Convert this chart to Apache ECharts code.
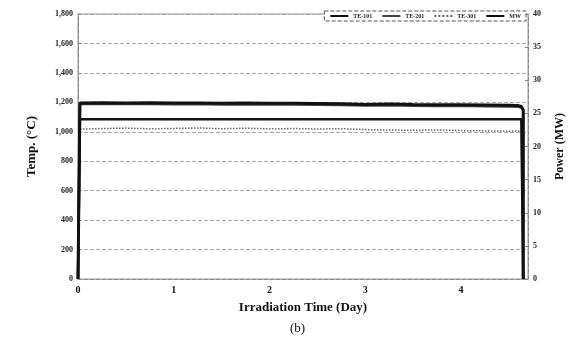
<!DOCTYPE html>
<html><head><meta charset="utf-8">
<script src="https://cdn.jsdelivr.net/npm/echarts@6/dist/echarts.min.js"></script>
<style>html,body{margin:0;padding:0;background:#fff}#c{width:574px;height:349px}</style>
</head><body><div id="c"></div>
<script>
const days  = [0, 0.02, 0.02, 0.25, 0.5, 0.75, 1, 1.25, 1.5, 1.75, 2, 2.25, 2.5, 2.75, 3, 3.25, 3.5, 3.75, 4, 4.25, 4.5, 4.6, 4.63, 4.65, 4.65];
const te101 = [0, 0, 1195, 1198, 1196, 1197, 1195, 1196, 1194, 1195, 1193, 1194, 1192, 1190, 1186, 1188, 1185, 1183, 1184, 1182, 1180, 1178, 1172, 1150, 0];
const te201 = [0, 0, 1188, 1190, 1189, 1188, 1187, 1188, 1186, 1187, 1185, 1186, 1184, 1182, 1178, 1180, 1177, 1175, 1176, 1174, 1172, 1170, 1165, 1145, 0];
const te301 = [0, 0, 1018, 1022, 1025, 1020, 1023, 1026, 1021, 1024, 1020, 1022, 1019, 1021, 1015, 1012, 1010, 1013, 1008, 1006, 1004, 1005, 1003, 1000, 0];
const mw    = [0, 0, 24.1, 24.1, 24.1, 24.1, 24.1, 24.1, 24.1, 24.1, 24.1, 24.1, 24.1, 24.1, 24.1, 24.1, 24.1, 24.1, 24.1, 24.1, 24.1, 24.1, 24.1, 24.1, 0];
const leftTicks = ['0','200','400','600','800','1,000','1,200','1,400','1,600','1,800'];

const pair = (ys) => days.map((d, i) => [d, ys[i]]);
const F = '"Liberation Serif","DejaVu Serif",serif';
const chart = echarts.init(document.getElementById('c'));
chart.setOption({
  animation: false,
  backgroundColor: '#fff',
  grid: {left: 78, right: 46, top: 14, bottom: 70, show: true, borderColor: '#999', borderWidth: 1},
  legend: {
    right: 48, top: 11, itemWidth: 18, itemHeight: 2, itemGap: 9,
    borderColor: '#555', borderWidth: 1, borderType: 'dashed', padding: [2, 5],
    backgroundColor: '#fff',
    textStyle: {fontFamily: F, fontSize: 6, fontWeight: 'bold', color: '#222'},
    data: ['TE-101', 'TE-201', 'TE-301', 'MW']
  },
  xAxis: {
    type: 'value', min: 0, max: 4.7, interval: 1,
    name: 'Irradiation Time (Day)', nameLocation: 'middle', nameGap: 22,
    nameTextStyle: {fontFamily: F, fontSize: 13, fontWeight: 'bold', color: '#111'},
    axisLine: {lineStyle: {color: '#888', type: 'dashed'}},
    axisTick: {show: false},
    splitLine: {show: false},
    axisLabel: {fontFamily: F, fontSize: 10, fontWeight: 'bold', color: '#111', margin: 6, showMaxLabel: false}
  },
  yAxis: [{
    type: 'value', min: 0, max: 1800, interval: 200,
    name: 'Temp. (°C)', nameLocation: 'middle', nameGap: 40,
    nameTextStyle: {fontFamily: F, fontSize: 13, fontWeight: 'bold', color: '#111'},
    axisLine: {show: true, lineStyle: {color: '#888', type: 'dashed'}},
    axisTick: {show: true, inside: true, length: 3, lineStyle: {color: '#888'}},
    splitLine: {show: true, lineStyle: {color: '#aaa', type: 'dashed', width: 1}},
    axisLabel: {fontFamily: F, fontSize: 8, fontWeight: 'bold', color: '#222', margin: 5,
      formatter: (v) => leftTicks[Math.round(v / 200)]}
  }, {
    type: 'value', min: 0, max: 40, interval: 5, position: 'right',
    name: 'Power (MW)', nameLocation: 'middle', nameGap: 26, nameRotate: 90,
    nameTextStyle: {fontFamily: F, fontSize: 12, fontWeight: 'bold', color: '#111'},
    axisLine: {show: true, lineStyle: {color: '#888', type: 'dashed'}},
    axisTick: {show: true, inside: true, length: 3, lineStyle: {color: '#888'}},
    splitLine: {show: false},
    axisLabel: {fontFamily: F, fontSize: 8, fontWeight: 'bold', color: '#222', margin: 5}
  }],
  graphic: [{
    type: 'text', left: 290, top: 322,
    style: {text: '(b)', font: '13px "Liberation Serif", serif', fill: '#111'}
  }],
  series: [
    {name: 'TE-101', type: 'line', yAxisIndex: 0, data: pair(te101), symbol: 'none',
     lineStyle: {color: '#111', width: 3}, itemStyle: {color: '#111'}, z: 4},
    {name: 'TE-201', type: 'line', yAxisIndex: 0, data: pair(te201), symbol: 'none',
     lineStyle: {color: '#444', width: 2.5}, itemStyle: {color: '#444'}, z: 3},
    {name: 'TE-301', type: 'line', yAxisIndex: 0, data: pair(te301), symbol: 'none',
     lineStyle: {color: '#666', width: 1.5, type: 'dotted'}, itemStyle: {color: '#666'}, z: 2},
    {name: 'MW', type: 'line', yAxisIndex: 1, data: pair(mw), symbol: 'none',
     lineStyle: {color: '#111', width: 2.5}, itemStyle: {color: '#111'}, z: 5}
  ]
});
</script></body></html>
